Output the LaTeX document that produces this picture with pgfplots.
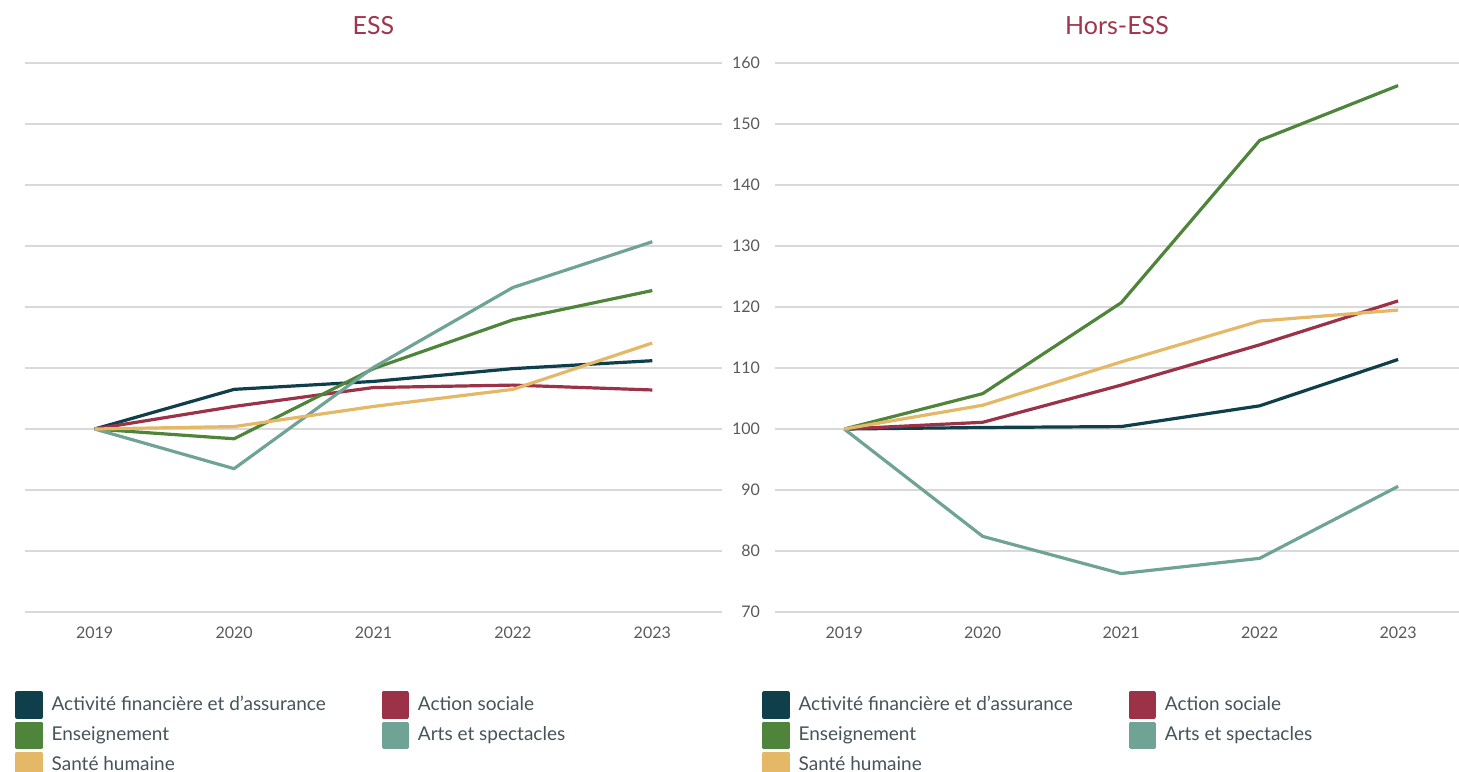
\documentclass[border=0pt]{standalone}
\usepackage{pgfplots}
\pgfplotsset{compat=1.18}
\usepackage{pgfplotstable}
\usepackage{fontspec}
\setmainfont{Lato}

\definecolor{cfin}{HTML}{0F3F4A}
\definecolor{csoc}{HTML}{9C3247}
\definecolor{cens}{HTML}{4E853A}
\definecolor{carts}{HTML}{6EA396}
\definecolor{csante}{HTML}{E4B867}
\definecolor{ctitle}{HTML}{A0364D}
\definecolor{cgrid}{HTML}{D9D9D9}
\definecolor{ctick}{HTML}{595959}
\definecolor{clegend}{HTML}{44545A}

% index 2019 = 100
\pgfplotstableread{
x  fin    soc    ens    arts   sante
0  100    100    100    100    100
1  106.5  103.7  98.4   93.5   100.4
2  107.8  106.8  109.9  110.1  103.7
3  109.9  107.2  117.9  123.2  106.5
4  111.2  106.4  122.7  130.7  114.1
}\ess
\pgfplotstableread{
x  fin    soc    ens    arts   sante
0  100    100    100    100    100
1  100.25 101.1  105.8  82.4   103.9
2  100.4  107.2  120.7  76.3   111.0
3  103.8  113.8  147.3  78.8   117.7
4  111.4  121.0  156.3  90.6   119.5
}\hors

\pgfplotsset{
  panel/.style={
    scale only axis,
    height=274.5pt,
    ymin=70, ymax=160,
    ytick={70,80,...,160},
    xmin=-0.5,
    xtick={0,...,4},
    xticklabels={2019,2020,2021,2022,2023},
    axis line style={draw=none},
    major tick style={draw=none},
    ymajorgrids,
    grid style={cgrid, line width=0.8pt},
    tick label style={font=\fontsize{8}{9}\selectfont, text=ctick},
    xticklabel style={yshift=-4pt},
    /pgf/number format/assume math mode=true,
    title style={font=\fontsize{12.5}{14}\selectfont, text=ctitle, anchor=center, yshift=12.5pt},
    every axis plot/.append style={line width=1.6pt, line join=round},
    legend columns=2,
    legend cell align=left,
    legend image code/.code={
      \fill[##1] (0pt,-6pt) rectangle (12pt,6pt);
      \path (16.5pt,0pt);
    },
    legend style={draw=none, fill=none, anchor=north west, inner sep=0pt,
      font=\fontsize{9.5}{11}\selectfont, text=clegend,
      nodes={inner sep=0pt}, row sep=1.5pt,
      /tikz/every even column/.append style={column sep=28pt}},
  },
}

\begin{document}
\begin{tikzpicture}
\path[use as bounding box] (0pt,0pt) rectangle (729.5pt,-385.5pt);

\begin{axis}[panel,
  at={(12.5pt,-306pt)}, anchor=south west,
  width=348.5pt, xmax=4.5,
  yticklabels={},
  title={ESS},
  legend style={at={(-0.0143,-0.144)}},
]
  \addplot[cfin]   table[y=fin]   {\ess};
  \addplot[csoc]   table[y=soc]   {\ess};
  \addplot[cens]   table[y=ens]   {\ess};
  \addplot[carts]  table[y=arts]  {\ess};
  \addplot[csante] table[y=sante] {\ess};
  \legend{Activité financière et d’assurance, Action sociale, Enseignement, Arts et spectacles, Santé humaine}
\end{axis}

\begin{axis}[panel,
  at={(387.5pt,-306pt)}, anchor=south west,
  width=342pt, xmax=4.44,
  yticklabel style={xshift=-4pt},
  title={Hors-ESS},
  legend style={at={(-0.019,-0.144)}},
]
  \addplot[cfin]   table[y=fin]   {\hors};
  \addplot[csoc]   table[y=soc]   {\hors};
  \addplot[cens]   table[y=ens]   {\hors};
  \addplot[carts]  table[y=arts]  {\hors};
  \addplot[csante] table[y=sante] {\hors};
  \legend{Activité financière et d’assurance, Action sociale, Enseignement, Arts et spectacles, Santé humaine}
\end{axis}
\end{tikzpicture}
\end{document}
